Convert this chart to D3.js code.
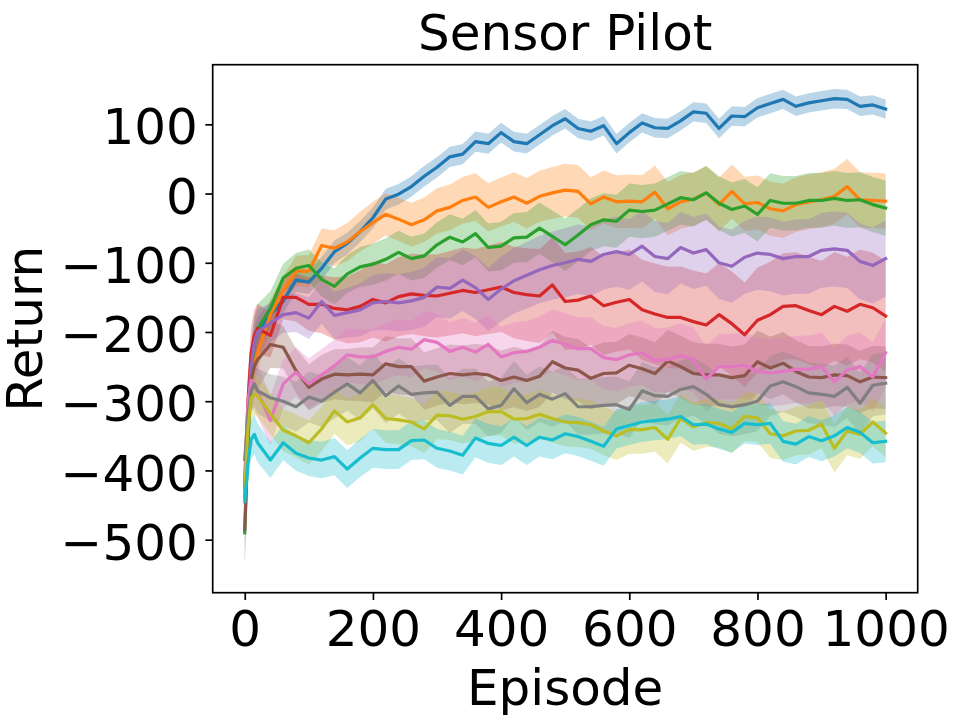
<!DOCTYPE html>
<html><head><meta charset="utf-8">
<script src="https://cdn.jsdelivr.net/npm/d3@7"></script>
<style>
body{margin:0;background:#fff;}
svg{display:block;}
text{font-family:"DejaVu Sans",sans-serif;fill:#000;}
</style>
</head><body>
<svg id="chart" width="968" height="726"></svg>
<script>
// ---------- data ----------
const episodes = [0,5,10,15,20,40,60,80,100,120,140,160,180,200,220,240,260,280,300,320,340,360,380,400,420,440,460,480,500,520,540,560,580,600,620,640,660,680,700,720,740,760,780,800,820,840,860,880,900,920,940,960,980,1000];

const sBlue   = [-437,-330,-250,-215,-200,-175,-155,-125,-128,-108,-84,-72,-55,-35,-8,-1,10,25,38,53,57,75,72,88,75,72,85,98,108,94,90,98,72,88,102,95,94,105,118,116,94,112,111,124,130,136,126,131,134,137,136,126,128,122];
const sOrange = [-440,-340,-270,-245,-230,-175,-140,-112,-112,-75,-79,-70,-55,-42,-30,-37,-45,-38,-25,-20,-10,-5,-20,-12,-5,-14,-4,1,5,3,-15,-5,-12,-11,-12,2,-22,-12,-8,1,-16,3,-15,-13,-22,-25,-16,-12,-9,-4,10,-9,-10,-11];
const sGreen  = [-490,-360,-260,-215,-195,-166,-122,-108,-104,-124,-134,-116,-106,-102,-95,-85,-94,-90,-74,-63,-70,-58,-78,-76,-64,-63,-50,-62,-74,-60,-45,-38,-40,-24,-26,-24,-15,-6,-9,1,-14,-23,-18,-30,-10,-14,-14,-10,-10,-7,-10,-9,-16,-21];
const sRed    = [-430,-300,-230,-205,-195,-205,-150,-150,-160,-160,-166,-168,-163,-153,-158,-149,-145,-147,-148,-144,-140,-143,-139,-135,-143,-146,-148,-132,-156,-154,-148,-162,-157,-153,-168,-174,-179,-179,-185,-190,-175,-188,-204,-183,-175,-163,-162,-169,-175,-163,-170,-160,-165,-177];
const sPurple = [-420,-320,-250,-215,-200,-187,-175,-172,-180,-156,-176,-172,-168,-158,-156,-158,-155,-150,-135,-137,-125,-136,-153,-138,-126,-118,-110,-104,-100,-95,-98,-88,-84,-88,-76,-91,-94,-78,-86,-81,-100,-105,-92,-86,-88,-94,-91,-91,-82,-80,-82,-98,-104,-94];
const sBrown  = [-485,-350,-270,-250,-240,-218,-222,-256,-280,-268,-261,-262,-261,-262,-246,-250,-250,-271,-265,-260,-262,-260,-262,-270,-265,-270,-264,-243,-252,-255,-267,-260,-259,-248,-253,-260,-242,-250,-260,-262,-262,-266,-263,-243,-252,-245,-257,-265,-266,-262,-263,-272,-265,-266];
const sPink   = [-408,-300,-270,-275,-285,-328,-275,-258,-275,-262,-249,-233,-236,-236,-228,-222,-225,-211,-215,-228,-222,-229,-218,-236,-230,-228,-222,-212,-218,-224,-224,-237,-240,-233,-230,-241,-240,-234,-240,-268,-250,-250,-248,-257,-259,-257,-254,-254,-250,-272,-255,-250,-265,-230];
const sGray   = [-384,-320,-285,-275,-285,-295,-300,-308,-294,-300,-287,-275,-288,-270,-292,-278,-290,-288,-287,-306,-293,-293,-311,-306,-282,-302,-290,-297,-289,-308,-308,-306,-305,-312,-285,-292,-293,-283,-279,-290,-305,-308,-305,-300,-278,-272,-279,-288,-290,-293,-280,-303,-277,-274];
const sOlive  = [-432,-340,-295,-290,-292,-318,-342,-350,-360,-340,-314,-330,-324,-305,-325,-327,-330,-340,-320,-321,-326,-322,-315,-315,-326,-325,-319,-325,-330,-331,-334,-343,-350,-341,-341,-338,-355,-325,-337,-331,-332,-340,-322,-324,-347,-350,-343,-342,-333,-368,-343,-348,-330,-346];
const sCyan   = [-445,-390,-355,-348,-360,-385,-360,-375,-382,-385,-380,-398,-382,-368,-370,-370,-357,-356,-368,-372,-378,-353,-361,-364,-352,-364,-352,-356,-347,-351,-358,-365,-340,-335,-330,-328,-326,-322,-334,-333,-340,-345,-332,-334,-332,-358,-362,-351,-357,-350,-338,-345,-360,-358];

// half-width of the shaded band, read at these episodes
const spreadEpisodes = [0, 50, 200, 500, 1000];
const spBlue   = [25, 18, 15, 14, 14];
const spOrange = [30, 20, 30, 38, 40];
const spGreen  = [45, 20, 30, 38, 40];
const spRed    = [40, 30, 55, 70, 80];
const spPurple = [40, 25, 40, 50, 55];
const spBrown  = [50, 30, 40, 45, 45];
const spPink   = [40, 35, 40, 45, 50];
const spGray   = [30, 35, 40, 40, 45];
const spOlive  = [30, 30, 35, 35, 35];
const spCyan   = [30, 25, 28, 28, 30];

const colors = ["#1f77b4","#ff7f0e","#2ca02c","#d62728","#9467bd","#8c564b","#e377c2","#7f7f7f","#bcbd22","#17becf"];
const xTicks = [0,200,400,600,800,1000];
const yTicks = [100,0,-100,-200,-300,-400,-500];
const titleText = "Sensor Pilot";
const xLabel = "Episode";
const yLabel = "Return";

const seriesList = [sBlue,sOrange,sGreen,sRed,sPurple,sBrown,sPink,sGray,sOlive,sCyan];
const spreadList = [spBlue,spOrange,spGreen,spRed,spPurple,spBrown,spPink,spGray,spOlive,spCyan];

// ---------- layout ----------
const L = 212.7, R = 917.7, T = 64.7, B = 592.7;
const svg = d3.select("#chart");
const x = d3.scaleLinear().domain([-50, 1050]).range([L, R]);
const y = d3.scaleLinear().domain([-576.6, 186.1]).range([B, T]);

svg.append("defs").append("clipPath").attr("id","clip")
  .append("rect").attr("x",L).attr("y",T).attr("width",R-L).attr("height",B-T);

const plot = svg.append("g").attr("clip-path","url(#clip)");
const bandLayer = plot.append("g");
const lineLayer = plot.append("g");

seriesList.forEach((vals, i) => {
  const sp = d3.scaleLinear().domain(spreadEpisodes).range(spreadList[i]);
  const pts = episodes.map((e, k) => ({e, v: vals[k], s: sp(e)}));
  const area = d3.area().x(d => x(d.e)).y0(d => y(d.v - d.s)).y1(d => y(d.v + d.s));
  const line = d3.line().x(d => x(d.e)).y(d => y(d.v));
  bandLayer.append("path").attr("d", area(pts)).attr("fill", colors[i]).attr("fill-opacity", 0.3).attr("stroke","none");
  lineLayer.append("path").attr("d", line(pts)).attr("fill","none").attr("stroke", colors[i])
      .attr("stroke-width", 3.2).attr("stroke-linejoin","round").attr("stroke-linecap","square");
});

// axes
const fmt = d3.format("d");
const xAxis = svg.append("g").attr("transform", `translate(0,${B})`)
  .call(d3.axisBottom(x).tickValues(xTicks).tickFormat(fmt).tickSizeInner(7.3).tickSizeOuter(0));
xAxis.select(".domain").remove();
xAxis.selectAll(".tick line").attr("stroke","#000").attr("stroke-width",1.7);
xAxis.selectAll(".tick text").attr("y", 53.8).attr("dy", 0).attr("font-size", 50)
  .attr("font-family","DejaVu Sans").attr("fill","#000");

const yAxis = svg.append("g").attr("transform", `translate(${L},0)`)
  .call(d3.axisLeft(y).tickValues(yTicks).tickFormat(fmt).tickSizeInner(7.3).tickSizeOuter(0));
yAxis.select(".domain").remove();
yAxis.selectAll(".tick line").attr("stroke","#000").attr("stroke-width",1.7);
yAxis.selectAll(".tick text").attr("x", -14.8).attr("y", 19.6).attr("dy", 0).attr("font-size", 50)
  .attr("font-family","DejaVu Sans").attr("fill","#000");

// frame
svg.append("rect").attr("x",L).attr("y",T).attr("width",R-L).attr("height",B-T)
  .attr("fill","none").attr("stroke","#000").attr("stroke-width",1.7);

// labels
svg.append("text").attr("x",(L+R)/2).attr("y",50).attr("text-anchor","middle")
  .attr("font-size",50).text(titleText);
svg.append("text").attr("x",(L+R)/2).attr("y",705).attr("text-anchor","middle")
  .attr("font-size",50).text(xLabel);
svg.append("text").attr("transform",`translate(42,${(T+B)/2}) rotate(-90)`).attr("text-anchor","middle")
  .attr("font-size",50).text(yLabel);
</script>
</body></html>
